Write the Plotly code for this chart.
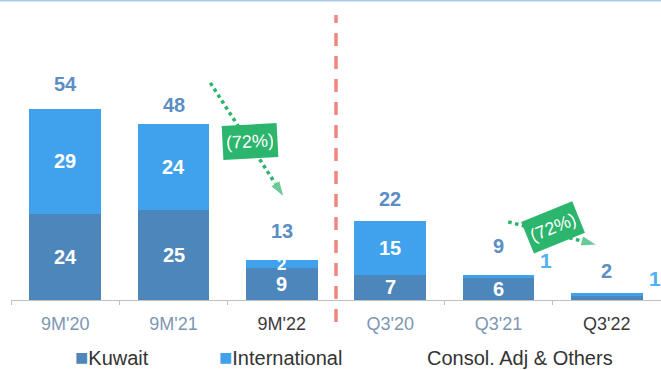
import plotly.graph_objects as go

# ---- data ----
categories = ["9M'20", "9M'21", "9M'22", "Q3'20", "Q3'21", "Q3'22"]
kuwait = [24, 25, 9, 7, 6, 1]
international = [29, 24, 2, 15, 1, 1]
totals = [54, 48, 13, 22, 9, 2]
change_labels = ["(72%)", "(72%)"]
# arrows: [x_start, y_start, x_end, y_end] in category-index / value units
arrow_paths = [[1.34, 60.3, 2.02, 28.6], [4.09, 21.7, 4.91, 15.3]]
arrow_boxes = [[1.71, 44.0, -3], [4.50, 20.2, -22]]
tick_colors = ["#7d97b3", "#7d97b3", "#3a3a3a", "#7d97b3", "#7d97b3", "#3a3a3a"]

C_KUW = "#4d86ba"
C_INT = "#40a2ec"
C_TOT = "#5b8ec3"
C_LBL = "#4fb2f2"
C_GRN = "#2bb56d"
FONT = "Liberation Sans, Arial, sans-serif"

xs = list(range(len(categories)))
fig = go.Figure()
fig.add_trace(go.Bar(x=xs, y=kuwait, name="Kuwait", marker_color=C_KUW, width=0.66,
                     marker_line_width=0))
fig.add_trace(go.Bar(x=xs, y=international, name="International", marker_color=C_INT,
                     width=0.66, marker_line_width=0))

ann = []
for i in xs:
    k, n, t = kuwait[i], international[i], totals[i]
    if k >= 2:
        ann.append(dict(x=i, y=k / 2, text=str(k), showarrow=False,
                        font=dict(color="white", size=20 if k > 5 else 17, family=FONT, weight="bold")))
    if n >= 2:
        ann.append(dict(x=i, y=k + n / 2, text=str(n), showarrow=False,
                        font=dict(color="white", size=20 if n > 5 else 17, family=FONT, weight="bold")))
    else:
        ann.append(dict(x=i + 0.44, y=k + n, text=str(n), showarrow=False, yanchor="bottom",
                        yshift=1, font=dict(color=C_LBL, size=21, family=FONT, weight="bold")))
    ann.append(dict(x=i, y=t, text=str(t), showarrow=False, yanchor="bottom", yshift=9,
                    font=dict(color=C_TOT, size=20, family=FONT, weight="bold")))

# dotted change arrows
for (x0, y0, x1, y1) in arrow_paths:
    fig.add_trace(go.Scatter(x=[x0, x1], y=[y0, y1], mode="lines+markers",
                             line=dict(color=C_GRN, width=3.5, dash="dot"),
                             marker=dict(symbol=["square", "arrow"], size=[12, 17],
                                         color=C_GRN, angleref="previous"),
                             showlegend=False, hoverinfo="skip"))
for (bx, by, ang), lab in zip(arrow_boxes, change_labels):
    ann.append(dict(x=bx, y=by, text=lab, showarrow=False, textangle=ang,
                    bgcolor=C_GRN, borderpad=4, width=46, height=25,
                    font=dict(color="white", size=18, family=FONT)))

# legend row
legend_items = [("Kuwait", C_KUW, 0.156), ("International", C_INT, 0.415),
                ("Consol. Adj & Others", None, 0.783)]
for name, col, px in legend_items:
    txt = name if col is None else f"<span style='color:{col};font-size:22px'>■</span>{name}"
    ann.append(dict(xref="paper", yref="paper", x=px, y=-0.193, xanchor="center",
                    yanchor="middle", text=txt, showarrow=False,
                    font=dict(color="#333333", size=20, family=FONT)))

shapes = [
    dict(type="line", xref="x", yref="paper", x0=2.5, x1=2.5, y0=-0.073, y1=0.95,
         line=dict(color="#f4857f", width=3.5, dash="13px,10px")),
    dict(type="line", xref="paper", yref="paper", x0=-0.02, x1=1.0, y0=1.0, y1=1.0,
         line=dict(color="#a8cbe6", width=3)),
]

fig.update_layout(
    width=661, height=370, margin=dict(l=11, r=0, t=0, b=70),
    paper_bgcolor="white", plot_bgcolor="white",
    barmode="stack", showlegend=False,
    annotations=ann, shapes=shapes,
    font=dict(family=FONT),
    xaxis=dict(range=[-0.5, 5.5], tickmode="array", tickvals=xs,
               ticktext=[f"<span style='color:{c}'>{t}</span>" for t, c in zip(categories, tick_colors)],
               ticks="", showline=True, linecolor="#bfbfbf", linewidth=1,
               showgrid=False, zeroline=False, ticklabelstandoff=7,
               tickfont=dict(size=18, family=FONT),
               minor=dict(tickvals=[-0.5, 0.5, 1.5, 3.5, 4.5, 5.5], ticks="outside",
                          ticklen=4, tickcolor="#bfbfbf")),
    yaxis=dict(range=[0, 300 / 3.6], visible=False, showgrid=False, zeroline=False),
)

fig.write_html("out.html")
